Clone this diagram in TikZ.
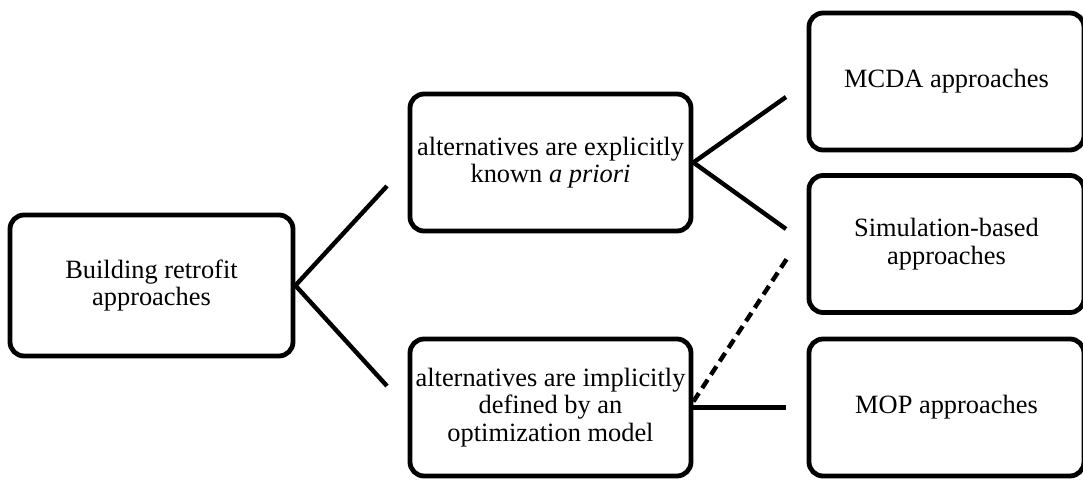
\documentclass[tikz,border=0pt]{standalone}
\usepackage{fontspec}
\setmainfont{Liberation Serif}
\begin{document}
\begin{tikzpicture}[x=0.5pt,y=-0.5pt,
  box/.style={draw,line width=2.4pt,rounded corners=7pt,align=center,inner sep=0pt,
    minimum height=68.5pt,font=\fontsize{13.2}{13.8}\selectfont},
  leftbox/.style={box,minimum width=141.5pt},
  midbox/.style={box,minimum width=140.5pt},
  rightbox/.style={box,minimum width=137.5pt},
  link/.style={line width=2.2pt},
  maybe/.style={line width=2.2pt,dash pattern=on 5pt off 3pt}]
\useasboundingbox (0,0) rectangle (1083,481);
\begin{scope}
\clip (0,0) rectangle (1083,481);
% root of the classification
\node[leftbox,minimum height=70.5pt] (root) at (151.5,285.5) {Building retrofit\\approaches};
% how the alternatives are given
\node[midbox] (explicit) at (550.5,162.5) {alternatives are explicitly\\known \textit{a priori}};
\node[midbox] (implicit) at (550.5,407.5) {alternatives are implicitly\\defined by an\\optimization model};
% families of approaches
\node[rightbox] (mcda) at (946.5,81.5) {MCDA approaches};
\node[rightbox] (sim) at (946.5,244) {Simulation-based\\approaches};
\node[rightbox] (mop) at (946.5,407.5) {MOP approaches};
% free ends of the branches
\coordinate (rootUp) at (387,186);
\coordinate (rootDown) at (387,386);
\coordinate (explUp) at (786,97);
\coordinate (explDown) at (786,229);
\coordinate (implRight) at (786,407.5);
\coordinate (implUp) at (788,257);
\end{scope}
\draw[link] (root.east) -- (rootUp);
\draw[link] (root.east) -- (rootDown);
\draw[link] (explicit.east) -- (explUp);
\draw[link] (explicit.east) -- (explDown);
\draw[link] (implicit.east) -- (implRight);
\draw[maybe] ([yshift=3pt]implicit.east) -- (implUp);
\end{tikzpicture}
\end{document}
